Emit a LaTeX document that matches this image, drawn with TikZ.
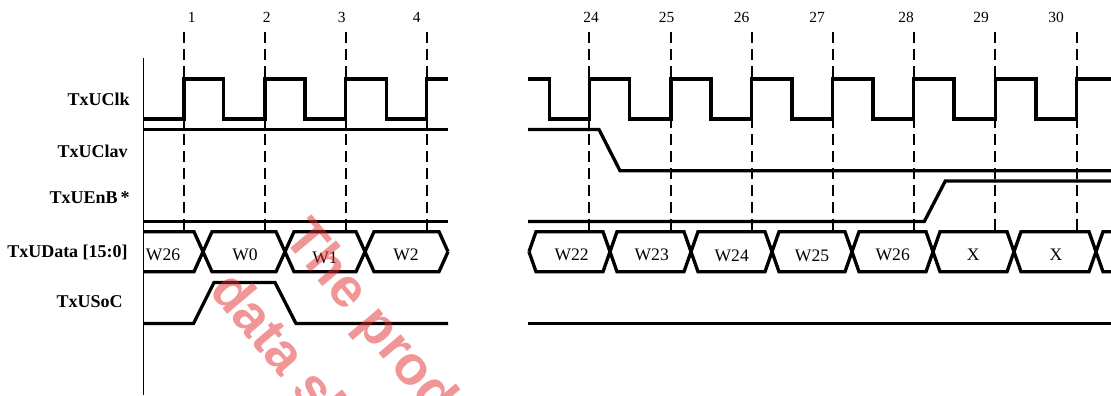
\documentclass[tikz,border=0pt]{standalone}
\usepackage{fontspec}
\setmainfont{Liberation Serif}
\newfontfamily\wmfont{Liberation Sans}
\definecolor{wmred}{RGB}{225,45,45}

\begin{document}
\begin{tikzpicture}[x=0.25mm, y=-0.25mm,
    signal/.style={line width=0.83mm, line join=miter},
    cycleline/.style={line width=0.42mm, dash pattern=on 2.75mm off 1.5mm},
    lbl/.style={anchor=east, inner sep=0pt, font=\fontsize{12.8}{14}\selectfont\bfseries},
    num/.style={inner sep=0pt, font=\fontsize{11}{13}\selectfont},
    word/.style={inner sep=0pt, font=\fontsize{12.5}{14}\selectfont},
    wmark/.style={anchor=base west, rotate=-50, inner sep=0pt, text=wmred, text opacity=0.5, font=\wmfont\fontsize{39}{40}\selectfont\bfseries}]
    \useasboundingbox (0,0) rectangle (1111,395);

    %signal names
    \node[lbl] (clk) at (130,99) {TxUClk};
    \node[lbl] (clav) at (128,151) {TxUClav};
    \node[lbl] (enb) at (130,198) {TxUEnB\,*};
    \node[lbl] (data) at (128,252) {TxUData [15:0]};
    \node[lbl] (soc) at (123,302) {TxUSoC};
    \draw[line width=0.3mm] (143.5,58) -- (143.5,395);

    %left part, cycles 1-4
    \node[num] (n1) at (191.7,17) {1};
    \node[num] (n2) at (266.7,17) {2};
    \node[num] (n3) at (341.7,17) {3};
    \node[num] (n4) at (416.7,17) {4};
    \draw[cycleline] (184,32) -- (184,230);
    \draw[cycleline] (265,32) -- (265,230);
    \draw[cycleline] (345.7,32) -- (345.7,230);
    \draw[cycleline] (426.7,32) -- (426.7,230);

    \draw[signal] (143.5,119) -- (184,119) -- (184,79) -- (223.3,79) -- (223.3,119) -- (265,119) -- (265,79) -- (305,79) -- (305,119) -- (345.7,119) -- (345.7,79) -- (386.7,79) -- (386.7,119) -- (426.7,119) -- (426.7,79) -- (448,79);
    \draw[signal] (143.5,129.5) -- (448,129.5);
    \draw[signal] (143.5,221.7) -- (448,221.7);
    \draw[signal] (143.5,231.7) -- (194,231.7) -- (212,271.7) -- (276,271.7) -- (294,231.7) -- (356,231.7) -- (374,271.7) -- (439,271.7) -- (448,251.7);
    \draw[signal] (143.5,271.7) -- (194,271.7) -- (212,231.7) -- (276,231.7) -- (294,271.7) -- (356,271.7) -- (374,231.7) -- (439,231.7) -- (448,251.7);
    \node[word] (w26a) at (163,255) {W26};
    \node[word] (w0) at (245,255) {W0};
    \node[word] (w1) at (325,258) {W1};
    \node[word] (w2) at (406,255) {W2};
    \draw[signal] (143.5,323.5) -- (193.5,323.5) -- (214,282.5) -- (275,282.5) -- (296,323.5) -- (448,323.5);

    %right part, cycles 24-30
    \node[num] (n24) at (591,17) {24};
    \node[num] (n25) at (666.7,17) {25};
    \node[num] (n26) at (741.7,17) {26};
    \node[num] (n27) at (817,17) {27};
    \node[num] (n28) at (906,17) {28};
    \node[num] (n29) at (981,17) {29};
    \node[num] (n30) at (1056,17) {30};
    \draw[cycleline] (589.3,32) -- (589.3,230);
    \draw[cycleline] (671,32) -- (671,230);
    \draw[cycleline] (751.7,32) -- (751.7,230);
    \draw[cycleline] (832.7,32) -- (832.7,230);
    \draw[cycleline] (913.7,32) -- (913.7,230);
    \draw[cycleline] (995.3,32) -- (995.3,230);
    \draw[cycleline] (1076.7,32) -- (1076.7,230);

    \draw[signal] (528,79) -- (549.3,79) -- (549.3,119) -- (589.3,119) -- (589.3,79) -- (629.3,79) -- (629.3,119) -- (671,119) -- (671,79) -- (711,79) -- (711,119) -- (751.7,119) -- (751.7,79) -- (792,79) -- (792,119) -- (832.7,119) -- (832.7,79) -- (873,79) -- (873,119) -- (913.7,119) -- (913.7,79) -- (954,79) -- (954,119) -- (995.3,119) -- (995.3,79) -- (1036,79) -- (1036,119) -- (1076.7,119) -- (1076.7,79) -- (1111,79);
    \draw[signal] (528,129.5) -- (599,129.5) -- (620,170.7) -- (1111,170.7);
    \draw[signal] (528,221.5) -- (924.3,221.5) -- (945.3,181) -- (1111,181);
    \draw[signal] (529,251.7) -- (536,231.7) -- (603,231.7) -- (617,271.7) -- (684,271.7) -- (698,231.7) -- (765,231.7) -- (779,271.7) -- (845,271.7) -- (859,231.7) -- (926,231.7) -- (940,271.7) -- (1007,271.7) -- (1021,231.7) -- (1089,231.7) -- (1103,271.7) -- (1111,271.7);
    \draw[signal] (529,251.7) -- (536,271.7) -- (603,271.7) -- (617,231.7) -- (684,231.7) -- (698,271.7) -- (765,271.7) -- (779,231.7) -- (845,231.7) -- (859,271.7) -- (926,271.7) -- (940,231.7) -- (1007,231.7) -- (1021,271.7) -- (1089,271.7) -- (1103,231.7) -- (1111,231.7);
    \node[word] (w22) at (571.7,255) {W22};
    \node[word] (w23) at (651.7,255) {W23};
    \node[word] (w24) at (731.7,256) {W24};
    \node[word] (w25) at (812,256) {W25};
    \node[word] (w26b) at (892.7,255) {W26};
    \node[word] (x1) at (973.3,255) {X};
    \node[word] (x2) at (1056,255) {X};
    \draw[signal] (528,323.5) -- (1111,323.5);

    %stamp over the left part
    \begin{scope}
        \clip (143.5,200) rectangle (462,395);
        \node[wmark] (wm1) at (282,238) {The prod};
        \node[wmark] (wm2) at (208,291) {data sh};
    \end{scope}
\end{tikzpicture}
\end{document}
